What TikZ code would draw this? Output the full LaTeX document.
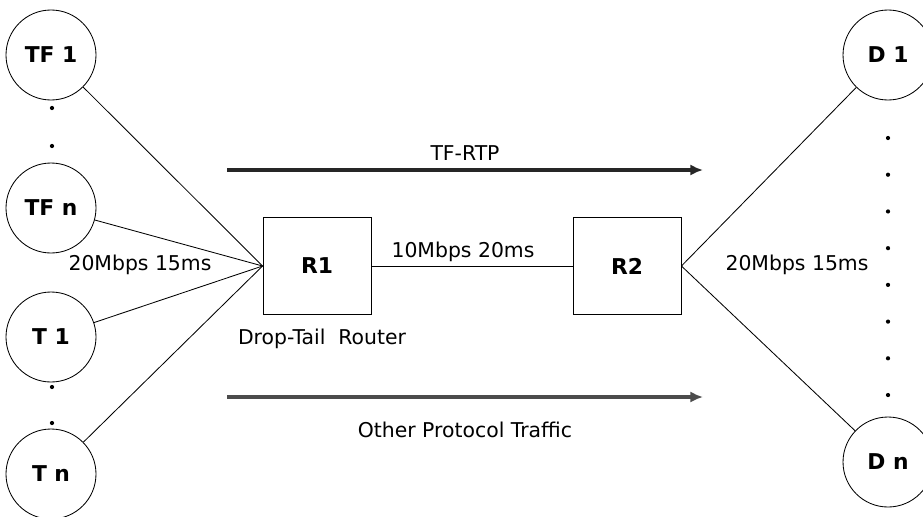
\documentclass[tikz,border=0pt]{standalone}
\usepackage{fontspec}
\setmainfont{DejaVu Sans}
\usetikzlibrary{arrows.meta}

\begin{document}
\begin{tikzpicture}[line width=0.6pt,
  host/.style={circle,draw,minimum size=2.25cm,inner sep=0pt,font=\fontsize{15.5}{18}\selectfont\bfseries},
  router/.style={draw,minimum width=2.7cm,minimum height=2.425cm,font=\fontsize{15.5}{18}\selectfont\bfseries},
  lbl/.style={font=\fontsize{14.5}{17}\selectfont},
  flow/.style={line width=2.8pt,-{Latex[length=9pt,width=8pt]}},
  dot/.style={circle,fill,inner sep=0pt,minimum size=3pt}]
\useasboundingbox (0,0) rectangle (23.075,-12.9);
\node[host] at (1.275,-1.375) (tf1) {TF 1};
\node[host] at (1.275,-5.2) (tfn) {TF n};
\node[host] at (1.275,-8.425) (t1) {T 1};
\node[host] at (1.275,-11.85) (tn) {T n};
\node[host] at (22.2,-1.375) (d1) {D 1};
\node[host] at (22.2,-11.55) (dn) {D n};
\node[router] at (7.925,-6.65) (r1) {R1};
\node[router] at (15.675,-6.65) (r2) {R2};
% dots between hosts
\node[dot] at (1.3,-2.7) (ldot1) {};
\node[dot] at (1.3,-3.65) (ldot2) {};
\node[dot] at (1.3,-9.675) (ldot3) {};
\node[dot] at (1.3,-10.575) (ldot4) {};
\foreach \i in {0,...,7}
  \node[dot] at (22.2,-3.45-0.918*\i) (rdot\i) {};
% labels
\node[lbl] at (3.5,-6.625) (leftlink) {20Mbps 15ms};
\node[lbl] at (19.925,-6.625) (rightlink) {20Mbps 15ms};
\node[lbl] at (8.05,-8.475) (droptail) {Drop-Tail\ \ Router};
\node[lbl] at (11.575,-6.3) (bottleneck) {10Mbps 20ms};
\coordinate (rtpstart) at (5.675,-4.25);
\coordinate (rtpend) at (17.575,-4.25);
\coordinate (otherstart) at (5.675,-9.925);
\coordinate (otherend) at (17.575,-9.925);
\node[lbl] at (11.625,-3.825) (rtp) {TF-RTP};
\node[lbl] at (11.625,-10.75) (other) {Other Protocol Traffic};
% links
\draw (tf1) -- (r1.west);
\draw (tfn) -- (r1.west);
\draw (t1) -- (r1.west);
\draw (tn) -- (r1.west);
\draw (r1) -- (r2);
\draw (r2.east) -- (d1);
\draw (r2.east) -- (dn);
% traffic
\draw[flow,black!85] (rtpstart) -- (rtpend);
\draw[flow,black!70] (otherstart) -- (otherend);
\end{tikzpicture}
\end{document}
